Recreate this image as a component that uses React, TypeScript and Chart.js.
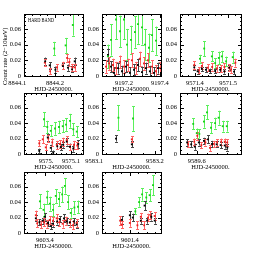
import React, { useEffect, useRef } from 'react';
import { Chart, registerables } from 'chart.js';
Chart.register(...registerables);

// ---- data: [HJD-2450000, count rate, error] ----
const p1Green = [[8844.198, 0.035, 0.0085], [8844.228, 0.039, 0.0095], [8844.247, 0.065, 0.0135]];
const p1Black = [[8844.174, 0.0187, 0.0048], [8844.186, 0.0136, 0.0042], [8844.201, 0.008, 0.004], [8844.221, 0.0125, 0.0042], [8844.234, 0.0106, 0.004], [8844.245, 0.0085, 0.004], [8844.252, 0.0187, 0.0048]];
const p1Red = [[8844.173, 0.017, 0.0045], [8844.187, 0.006, 0.004], [8844.205, 0.011, 0.0042], [8844.220, 0.0136, 0.0045], [8844.232, 0.023, 0.005], [8844.238, 0.018, 0.0048], [8844.246, 0.011, 0.0045], [8844.252, 0.011, 0.0045]];

const p2Green = [[9197.111, 0.025, 0.015], [9197.128, 0.046, 0.02], [9197.156, 0.072, 0.025], [9197.178, 0.057, 0.02], [9197.200, 0.072, 0.025], [9197.217, 0.040, 0.02], [9197.239, 0.046, 0.018], [9197.261, 0.056, 0.02], [9197.278, 0.066, 0.025], [9197.300, 0.062, 0.022], [9197.317, 0.040, 0.02], [9197.339, 0.036, 0.018], [9197.356, 0.052, 0.02], [9197.378, 0.045, 0.018]];
const p2Black = [[9197.111, 0.027, 0.008], [9197.128, 0.012, 0.007], [9197.144, 0.004, 0.007], [9197.167, 0.010, 0.007], [9197.189, 0.006, 0.007], [9197.211, 0.012, 0.007], [9197.233, 0.004, 0.007], [9197.256, 0.008, 0.007], [9197.278, 0.014, 0.008], [9197.300, 0.005, 0.007], [9197.322, 0.010, 0.007], [9197.344, 0.006, 0.007], [9197.367, 0.004, 0.007], [9197.389, 0.010, 0.007]];
const p2Red = [[9197.100, 0.012, 0.008], [9197.117, 0.016, 0.008], [9197.139, 0.014, 0.008], [9197.156, 0.010, 0.008], [9197.178, 0.018, 0.008], [9197.200, 0.012, 0.008], [9197.222, 0.014, 0.008], [9197.244, 0.020, 0.009], [9197.267, 0.010, 0.008], [9197.289, 0.022, 0.009], [9197.311, 0.016, 0.008], [9197.333, 0.020, 0.009], [9197.356, 0.012, 0.008], [9197.378, 0.006, 0.008], [9197.400, 0.010, 0.008]];

const p3Green = [[9571.415, 0.022, 0.005], [9571.428, 0.035, 0.0095], [9571.451, 0.025, 0.0065], [9571.461, 0.0165, 0.006], [9571.472, 0.023, 0.008], [9571.481, 0.025, 0.007], [9571.494, 0.0187, 0.006], [9571.514, 0.024, 0.007]];
const p3Black = [[9571.398, 0.011, 0.003], [9571.408, 0.006, 0.003], [9571.421, 0.009, 0.003], [9571.433, 0.008, 0.003], [9571.445, 0.0064, 0.003], [9571.461, 0.0064, 0.003], [9571.476, 0.008, 0.003], [9571.489, 0.006, 0.003], [9571.504, 0.0106, 0.003], [9571.518, 0.0055, 0.003]];
const p3Red = [[9571.398, 0.014, 0.005], [9571.411, 0.0072, 0.004], [9571.421, 0.0128, 0.0045], [9571.438, 0.0106, 0.0045], [9571.452, 0.0115, 0.0045], [9571.466, 0.0098, 0.0045], [9571.479, 0.0094, 0.0045], [9571.489, 0.0115, 0.0045], [9571.502, 0.0106, 0.0045], [9571.509, 0.0085, 0.0045], [9571.522, 0.017, 0.005]];

const p4Green = [[9574.992, 0.045, 0.009], [9575.005, 0.035, 0.008], [9575.019, 0.030, 0.007], [9575.036, 0.033, 0.008], [9575.052, 0.035, 0.008], [9575.067, 0.036, 0.008], [9575.080, 0.038, 0.008], [9575.096, 0.043, 0.009], [9575.109, 0.032, 0.008], [9575.123, 0.029, 0.007]];
const p4Black = [[9574.973, 0.004, 0.003], [9575.007, 0.0215, 0.005], [9575.019, 0.008, 0.004], [9575.029, 0.0015, 0.003], [9575.045, 0.010, 0.004], [9575.059, 0.009, 0.004], [9575.069, 0.012, 0.004], [9575.083, 0.016, 0.005], [9575.096, 0.0095, 0.004], [9575.109, 0.007, 0.004], [9575.129, 0.013, 0.005]];
const p4Red = [[9574.973, 0.0138, 0.004], [9574.987, 0.019, 0.005], [9574.999, 0.0086, 0.004], [9575.009, 0.020, 0.005], [9575.025, 0.015, 0.005], [9575.043, 0.012, 0.005], [9575.056, 0.013, 0.005], [9575.069, 0.016, 0.005], [9575.083, 0.018, 0.005], [9575.096, 0.009, 0.004], [9575.112, 0.012, 0.005], [9575.125, 0.011, 0.005]];

const p5Green = [[9583.140, 0.047, 0.016], [9583.164, 0.046, 0.016]];
const p5Black = [[9583.136, 0.020, 0.004], [9583.162, 0.0125, 0.004]];
const p5Red = [[9583.162, 0.019, 0.004]];

const p6Green = [[9589.593, 0.039, 0.007], [9589.600, 0.027, 0.006], [9589.605, 0.026, 0.006], [9589.614, 0.042, 0.008], [9589.620, 0.054, 0.009], [9589.628, 0.034, 0.007], [9589.636, 0.040, 0.007], [9589.643, 0.047, 0.009], [9589.651, 0.036, 0.007], [9589.659, 0.036, 0.007]];
const p6Black = [[9589.581, 0.015, 0.004], [9589.589, 0.0125, 0.004], [9589.596, 0.0095, 0.004], [9589.604, 0.015, 0.004], [9589.614, 0.017, 0.004], [9589.622, 0.019, 0.005], [9589.630, 0.013, 0.004], [9589.639, 0.0125, 0.004], [9589.647, 0.0115, 0.004], [9589.655, 0.011, 0.004], [9589.660, 0.0085, 0.004]];
const p6Red = [[9589.583, 0.0125, 0.004], [9589.595, 0.016, 0.004], [9589.601, 0.0236, 0.005], [9589.609, 0.0115, 0.004], [9589.617, 0.015, 0.004], [9589.626, 0.008, 0.004], [9589.633, 0.013, 0.004], [9589.640, 0.015, 0.004], [9589.648, 0.016, 0.004], [9589.655, 0.016, 0.004], [9589.660, 0.015, 0.004]];

const p7Green = [[9603.389, 0.041, 0.009], [9603.397, 0.030, 0.008], [9603.405, 0.046, 0.009], [9603.411, 0.038, 0.009], [9603.418, 0.030, 0.008], [9603.424, 0.048, 0.009], [9603.431, 0.044, 0.009], [9603.438, 0.050, 0.010], [9603.444, 0.061, 0.010], [9603.451, 0.040, 0.009], [9603.457, 0.026, 0.006], [9603.465, 0.033, 0.008], [9603.473, 0.034, 0.008]];
const p7Black = [[9603.380, 0.019, 0.004], [9603.388, 0.014, 0.004], [9603.395, 0.016, 0.004], [9603.400, 0.021, 0.005], [9603.407, 0.013, 0.004], [9603.413, 0.009, 0.004], [9603.418, 0.012, 0.004], [9603.427, 0.015, 0.004], [9603.433, 0.018, 0.004], [9603.442, 0.019, 0.005], [9603.448, 0.015, 0.004], [9603.455, 0.014, 0.004], [9603.464, 0.015, 0.004], [9603.470, 0.011, 0.004]];
const p7Red = [[9603.380, 0.023, 0.006], [9603.383, 0.0125, 0.005], [9603.391, 0.011, 0.005], [9603.398, 0.014, 0.005], [9603.404, 0.012, 0.005], [9603.411, 0.017, 0.005], [9603.418, 0.016, 0.005], [9603.426, 0.019, 0.005], [9603.432, 0.014, 0.005], [9603.439, 0.012, 0.005], [9603.446, 0.016, 0.005], [9603.455, 0.013, 0.005], [9603.462, 0.010, 0.005], [9603.470, 0.013, 0.005]];

const p8Green = [[9601.413, 0.028, 0.004], [9601.422, 0.040, 0.006], [9601.429, 0.050, 0.008], [9601.439, 0.046, 0.007], [9601.447, 0.049, 0.008], [9601.455, 0.062, 0.013]];
const p8Black = [[9601.381, 0.017, 0.005], [9601.400, 0.023, 0.005], [9601.407, 0.020, 0.005], [9601.426, 0.016, 0.004], [9601.435, 0.0355, 0.006], [9601.441, 0.016, 0.004], [9601.451, 0.021, 0.005], [9601.459, 0.016, 0.004]];
const p8Red = [[9601.377, 0.016, 0.006], [9601.381, 0.011, 0.005], [9601.400, 0.013, 0.005], [9601.418, 0.010, 0.005], [9601.426, 0.021, 0.005], [9601.434, 0.010, 0.005], [9601.443, 0.020, 0.005], [9601.449, 0.023, 0.005], [9601.459, 0.022, 0.005]];

// ---- tick labels ----
const yTickValues = [0, 0.02, 0.04, 0.06];
const yTickLabels = ['0', '0.02', '0.04', '0.06'];
const p1XTicks = [8844.1, 8844.2]; const p1XLabels = ['8844.1', '8844.2'];
const p2XTicks = [9197.2, 9197.4]; const p2XLabels = ['9197.2', '9197.4'];
const p3XTicks = [9571.4, 9571.5]; const p3XLabels = ['9571.4', '9571.5'];
const p4XTicks = [9575, 9575.1]; const p4XLabels = ['9575.', '9575.1'];
const p5XTicks = [9583.1, 9583.2]; const p5XLabels = ['9583.1', '9583.2'];
const p6XTicks = [9589.6]; const p6XLabels = ['9589.6'];
const p7XTicks = [9603.4]; const p7XLabels = ['9603.4'];
const p8XTicks = [9601.4]; const p8XLabels = ['9601.4'];

const X_TITLE = 'HJD-2450000.';
const Y_TITLE = 'Count rate (2\u221210keV)';
const BAND_LABEL = 'HARD BAND';

// ---- layout / style ----
const Y_MAX = 0.079;
const PAD_L = 24, PAD_T = 4, PAD_R = 10, AXIS_H = 17;
const FONT_FAMILY = "'Liberation Serif', 'DejaVu Serif', serif";
const FONT = { family: FONT_FAMILY, size: 6.5 };

const panels = [
  { g: p1Green, k: p1Black, r: p1Red, xMin: 8844.118, xMax: 8844.274, xt: p1XTicks, xl: p1XLabels, xMinor: 0.02, left: 24, top: 14, w: 59, h: 62, first: true },
  { g: p2Green, k: p2Black, r: p2Red, xMin: 9197.078, xMax: 9197.406, xt: p2XTicks, xl: p2XLabels, xMinor: 0.05, left: 102, top: 14, w: 59, h: 62 },
  { g: p3Green, k: p3Black, r: p3Red, xMin: 9571.355, xMax: 9571.539, xt: p3XTicks, xl: p3XLabels, xMinor: 0.02, left: 180, top: 14, w: 61, h: 62 },
  { g: p4Green, k: p4Black, r: p4Red, xMin: 9574.912, xMax: 9575.148, xt: p4XTicks, xl: p4XLabels, xMinor: 0.02, left: 24, top: 93, w: 59, h: 61 },
  { g: p5Green, k: p5Black, r: p5Red, xMin: 9583.113, xMax: 9583.210, xt: p5XTicks, xl: p5XLabels, xMinor: 0.02, left: 102, top: 93, w: 59, h: 61 },
  { g: p6Green, k: p6Black, r: p6Red, xMin: 9589.567, xMax: 9589.687, xt: p6XTicks, xl: p6XLabels, xMinor: 0.02, left: 180, top: 93, w: 61, h: 61 },
  { g: p7Green, k: p7Black, r: p7Red, xMin: 9603.354, xMax: 9603.484, xt: p7XTicks, xl: p7XLabels, xMinor: 0.02, left: 24, top: 172, w: 59, h: 61 },
  { g: p8Green, k: p8Black, r: p8Red, xMin: 9601.334, xMax: 9601.474, xt: p8XTicks, xl: p8XLabels, xMinor: 0.02, left: 102, top: 172, w: 59, h: 61 },
];

const SERIES = [
  { key: 'g', point: 'rgb(20,210,20)', bar: 'rgb(90,240,90)' },
  { key: 'k', point: '#000000', bar: 'rgb(70,70,70)' },
  { key: 'r', point: 'rgb(235,30,30)', bar: 'rgb(255,100,100)' },
];

const framePlugin = {
  id: 'frame',
  beforeDatasetsDraw(chart: any) {
    const ctx = chart.ctx;
    const { left, right, top, bottom } = chart.chartArea;
    const ys = chart.scales.y;
    ctx.save();
    ctx.beginPath();
    ctx.rect(left, top, right - left, bottom - top);
    ctx.clip();
    chart.data.datasets.forEach((ds: any, i: number) => {
      const meta = chart.getDatasetMeta(i);
      ctx.strokeStyle = ds.barColor;
      ctx.lineWidth = 1;
      meta.data.forEach((el: any, j: number) => {
        const d = ds.data[j];
        const x = Math.round(el.x) + 0.5;
        const y1 = ys.getPixelForValue(d.y - d.e);
        const y2 = ys.getPixelForValue(d.y + d.e);
        ctx.beginPath();
        ctx.moveTo(x, y1); ctx.lineTo(x, y2);
        ctx.moveTo(x - 1.5, Math.round(y1) + 0.5); ctx.lineTo(x + 1.5, Math.round(y1) + 0.5);
        ctx.moveTo(x - 1.5, Math.round(y2) + 0.5); ctx.lineTo(x + 1.5, Math.round(y2) + 0.5);
        ctx.stroke();
      });
    });
    ctx.restore();
  },
  afterDraw(chart: any, _args: any, opts: any) {
    const ctx = chart.ctx;
    const { left, right, top, bottom } = chart.chartArea;
    const xs = chart.scales.x, ys = chart.scales.y;
    ctx.save();
    ctx.strokeStyle = '#000';
    ctx.lineWidth = 1;
    ctx.strokeRect(left + 0.5, top + 0.5, right - left, bottom - top);
    ctx.beginPath();
    // y ticks every 0.005, major every 0.02
    for (let k = 0; k * 0.005 <= Y_MAX + 1e-9; k++) {
      const p = Math.round(ys.getPixelForValue(k * 0.005)) + 0.5;
      const len = k % 4 === 0 ? 4 : 2;
      ctx.moveTo(left, p); ctx.lineTo(left + len, p);
      ctx.moveTo(right + 1, p); ctx.lineTo(right + 1 - len, p);
    }
    const min = xs.min, max = xs.max, step = opts.xMinor;
    for (let k = Math.ceil(min / step); k * step <= max; k++) {
      const v = k * step;
      const major = opts.xTicks.some((t: number) => Math.abs(t - v) < step / 10);
      const p = Math.round(xs.getPixelForValue(v)) + 0.5;
      const len = major ? 4 : 2;
      ctx.moveTo(p, bottom + 1); ctx.lineTo(p, bottom + 1 - len);
      ctx.moveTo(p, top); ctx.lineTo(p, top + len);
    }
    ctx.stroke();
    if (opts.first) {
      ctx.fillStyle = '#000';
      ctx.font = `5.5px ${FONT_FAMILY}`;
      ctx.textBaseline = 'top';
      ctx.textAlign = 'left';
      ctx.save();
      ctx.translate(left + 4, top + 4);
      ctx.scale(0.8, 1);
      ctx.fillText(BAND_LABEL, 0, 0);
      ctx.restore();
      ctx.save();
      ctx.font = `6.5px ${FONT_FAMILY}`;
      ctx.translate(5, bottom + 9);
      ctx.rotate(-Math.PI / 2);
      ctx.textBaseline = 'middle';
      ctx.fillText(Y_TITLE, 0, 0);
      ctx.restore();
    }
    ctx.restore();
  },
};

function makeConfig(cfg: any): any {
  const datasets = SERIES.map((s) => ({
    data: cfg[s.key].map((d: number[]) => ({ x: d[0], y: d[1], e: d[2] })),
    backgroundColor: s.point,
    borderColor: s.point,
    barColor: s.bar,
    pointStyle: 'rect',
    pointRadius: 1.3,
    borderWidth: 0,
    showLine: false,
  }));
  return {
    type: 'scatter',
    data: { datasets },
    plugins: [framePlugin],
    options: {
      animation: false,
      responsive: false,
      devicePixelRatio: 1,
      events: [],
      layout: { padding: { top: PAD_T, right: PAD_R, left: 0, bottom: 0 } },
      plugins: {
        legend: { display: false },
        tooltip: { enabled: false },
        frame: { xMinor: cfg.xMinor, xTicks: cfg.xt, first: !!cfg.first },
      },
      scales: {
        x: {
          type: 'linear',
          min: cfg.xMin,
          max: cfg.xMax,
          grid: { display: false, drawTicks: false },
          border: { display: false },
          ticks: {
            autoSkip: false, maxRotation: 0, minRotation: 0, padding: 3,
            color: '#000', font: FONT,
            callback: (_v: any, i: number) => cfg.xl[i],
          },
          afterBuildTicks: (s: any) => { s.ticks = cfg.xt.map((v: number) => ({ value: v })); },
          afterFit: (s: any) => { s.height = AXIS_H; s.paddingLeft = 0; s.paddingRight = 0; },
          title: { display: true, text: X_TITLE, color: '#000', font: FONT, padding: { top: 0, bottom: 0 } },
        },
        y: {
          type: 'linear',
          min: 0,
          max: Y_MAX,
          grid: { display: false, drawTicks: false },
          border: { display: false },
          ticks: {
            padding: 3, color: '#000', font: FONT,
            callback: (_v: any, i: number) => yTickLabels[i],
          },
          afterBuildTicks: (s: any) => { s.ticks = yTickValues.map((v) => ({ value: v })); },
          afterFit: (s: any) => { s.width = PAD_L; s.paddingTop = 0; s.paddingBottom = 0; },
        },
      },
    },
  };
}

function Panel({ cfg }: { cfg: any }) {
  const ref = useRef<HTMLCanvasElement>(null);
  useEffect(() => {
    const chart = new Chart(ref.current as HTMLCanvasElement, makeConfig(cfg));
    return () => chart.destroy();
  }, [cfg]);
  const W = PAD_L + cfg.w + PAD_R;
  const H = PAD_T + cfg.h + AXIS_H;
  return (
    <canvas
      ref={ref}
      width={W}
      height={H}
      style={{ position: 'absolute', left: cfg.left - PAD_L, top: cfg.top - PAD_T, width: W, height: H }}
    />
  );
}

export default function App() {
  return (
    <div style={{ position: 'fixed', left: 0, top: 0, width: 256, height: 256, background: '#fff', overflow: 'hidden' }}>
      {panels.map((p, i) => <Panel key={i} cfg={p} />)}
    </div>
  );
}
